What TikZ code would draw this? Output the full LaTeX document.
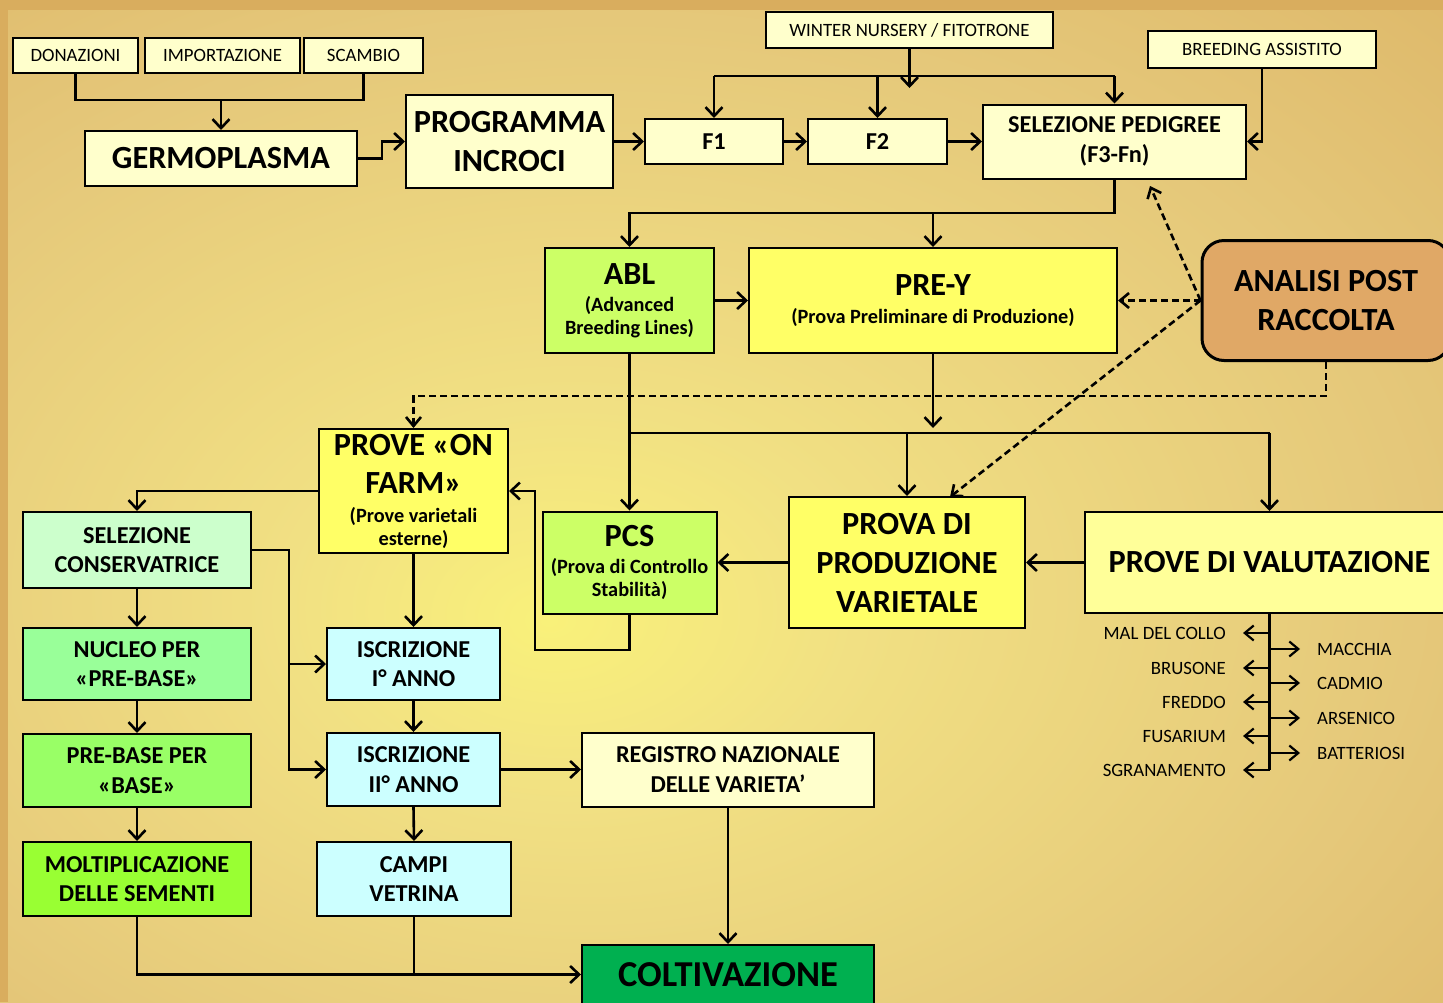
\documentclass[tikz,border=0pt]{standalone}
\usepackage{fontspec}
\setmainfont{Carlito}
\usetikzlibrary{arrows.meta}
\definecolor{cLY}{HTML}{FFFFCC}
\definecolor{cG1}{HTML}{CCFF66}
\definecolor{cY}{HTML}{FFFF66}
\definecolor{cY2}{HTML}{FFFF99}
\definecolor{cAna}{HTML}{E0A866}
\definecolor{cSC}{HTML}{CCFFCC}
\definecolor{cNU}{HTML}{99FF99}
\definecolor{cPB}{HTML}{99FF66}
\definecolor{cMO}{HTML}{99FF33}
\definecolor{cCY}{HTML}{CCFFFF}
\definecolor{cCO}{HTML}{00B050}
\definecolor{bgA}{HTML}{F9F17A}
\definecolor{bgB}{HTML}{F1E083}
\definecolor{bgC}{HTML}{E5C87A}
\definecolor{bgD}{HTML}{D9AD5E}
\pgfdeclareradialshading{bgsh}{\pgfpoint{-6bp}{-6bp}}{color(0bp)=(bgA); color(10bp)=(bgB); color(28bp)=(bgC); color(50bp)=(bgD); color(80bp)=(bgD)}
\newcommand\fbig{\bfseries\fontsize{32.3}{39}\selectfont}
\newcommand\fcol{\bfseries\fontsize{36.5}{42}\selectfont}
\newcommand\fmed{\bfseries\fontsize{24.3}{29.5}\selectfont}
\newcommand\fsub{\bfseries\fontsize{20.3}{23}\selectfont}
\newcommand\fsmall{\fontsize{18.8}{21}\selectfont}
\begin{document}
\begin{tikzpicture}[x=1pt,y=-1pt,
  bx/.style={draw=black, line width=2pt, align=center, inner sep=1pt, font=\fmed},
  ln/.style={line width=2.6pt},
  arr/.style={ln, -{Straight Barb[length=9pt,width=17pt]}},
  darr/.style={ln, dash pattern=on 7pt off 4pt, -{Straight Barb[length=9pt,width=15pt]}},
  sarr/.style={line width=2.2pt, shorten >=17pt, -{Straight Barb[length=9pt,width=15pt]}},
  lbl/.style={font=\fsmall, inner sep=0pt, text height=12pt, text depth=0pt}]
\useasboundingbox (0,0) rectangle (1443,1002);
\clip (0,0) rectangle (1443,1002);
\shade[shading=bgsh] (0,0) rectangle (1443,1002);
\fill[bgD] (0,0) rectangle (1443,10);
\fill[bgD] (0,0) rectangle (8,1002);

% top row
\node[bx, fill=cLY, font=\fsmall, minimum width=125, minimum height=35] (don) at (75.5,55.5) {DONAZIONI};
\node[bx, fill=cLY, font=\fsmall, minimum width=155, minimum height=35] (imp) at (222.5,55.5) {IMPORTAZIONE};
\node[bx, fill=cLY, font=\fsmall, minimum width=119, minimum height=35] (sca) at (363.5,55.5) {SCAMBIO};
\node[bx, fill=cLY, font=\fbig, minimum width=272, minimum height=55] (germ) at (221,158.5) {GERMOPLASMA};
\node[bx, fill=cLY, font=\fbig, minimum width=207, minimum height=93] (prog) at (509.5,141.5) {PROGRAMMA\\INCROCI};
\node[bx, fill=cLY, minimum width=138, minimum height=45] (f1) at (714,141.5) {F1};
\node[bx, fill=cLY, minimum width=139, minimum height=45] (f2) at (877.5,141.5) {F2};
\node[bx, fill=cLY, minimum width=263, minimum height=74] (sel) at (1114.5,141.5) {SELEZIONE PEDIGREE\\(F3-Fn)};
\node[bx, fill=cLY, font=\fsmall, minimum width=287, minimum height=36] (win) at (909.5,30) {WINTER NURSERY / FITOTRONE};
\node[bx, fill=cLY, font=\fsmall, minimum width=228, minimum height=37] (bre) at (1262,49.5) {BREEDING ASSISTITO};

% middle
\node[bx, fill=cG1, font=\fsub, minimum width=169, minimum height=105] (abl) at (629.5,300.5) {{\fbig ABL}\\[4pt](Advanced\\Breeding Lines)};
\node[bx, fill=cY, font=\fsub, minimum width=368, minimum height=105] (prey) at (933,300.5) {{\fbig PRE-Y}\\[5pt](Prova Preliminare di Produzione)};
\node[bx, fill=cAna, line width=3pt, rounded corners=22pt, font=\fbig, minimum width=248, minimum height=120] (ana) at (1326,300.5) {ANALISI POST\\RACCOLTA};
\node[bx, fill=cG1, font=\fsub, minimum width=174, minimum height=102] (pcs) at (629.5,562.5) {{\fbig PCS}\\[4pt](Prova di Controllo\\Stabilità)};
\node[bx, fill=cY, font=\fbig, minimum width=236, minimum height=131] (pdp) at (907,562.5) {PROVA DI\\PRODUZIONE\\VARIETALE};
\node[bx, fill=cY2, font=\fbig, minimum width=369, minimum height=101] (pdv) at (1269.5,562.5) {PROVE DI VALUTAZIONE};
\node[bx, fill=cY, font=\fsub, minimum width=189, minimum height=124] (onf) at (413.5,491) {{\fbig PROVE «ON}\\[15pt]{\fbig FARM»}\\[6pt](Prove varietali\\esterne)};

% left columns
\node[bx, fill=cSC, minimum width=228, minimum height=76] (scons) at (137,550) {SELEZIONE\\CONSERVATRICE};
\node[bx, fill=cNU, minimum width=228, minimum height=72] (nuc) at (137,664) {NUCLEO PER\\«PRE-BASE»};
\node[bx, fill=cPB, minimum width=228, minimum height=73] (preb) at (137,770.5) {PRE-BASE PER\\«BASE»};
\node[bx, fill=cMO, minimum width=228, minimum height=74] (molt) at (137,879) {MOLTIPLICAZIONE\\DELLE SEMENTI};
\node[bx, fill=cCY, minimum width=173, minimum height=72] (isc1) at (413.5,664) {ISCRIZIONE\\I° ANNO};
\node[bx, fill=cCY, minimum width=173, minimum height=73] (isc2) at (413.5,769.5) {ISCRIZIONE\\II° ANNO};
\node[bx, fill=cCY, minimum width=194, minimum height=74] (campi) at (414,879) {CAMPI\\VETRINA};
\node[bx, fill=cLY, minimum width=292, minimum height=74] (reg) at (728,769.5) {REGISTRO NAZIONALE\\DELLE VARIETA’};
\node[bx, fill=cCO, font=\fcol, minimum width=292, minimum height=59] (colt) at (728,974.5) {COLTIVAZIONE};

% connectors top
\coordinate (j1) at (221,100);
\draw[ln] (don.south) |- (j1) -| (sca.south);
\draw[arr] (j1) -- (germ.north);
\coordinate (j2) at (382,150);
\draw[arr] (germ.east) -| (j2) |- (prog.west);
\draw[arr] (prog.east) -- (f1.west);
\draw[arr] (f1.east) -- (f2.west);
\draw[arr] (f2.east) -- (sel.west);
\coordinate (wl) at (714,76);
\coordinate (wr) at (1114.5,76);
\coordinate (wa) at (909.5,88);
\draw[ln] (wl) -- (wr);
\draw[arr] (win.south) -- (wa);
\draw[arr] (wl) -- (f1.north);
\draw[arr] (f2.north |- wl) -- (f2.north);
\draw[arr] (wr) -- (sel.north);
\draw[arr] (bre.south) |- (sel.east);
\coordinate (j3) at (933,213);
\draw[arr] (sel.south) |- (j3) -| (abl.north);
\draw[arr] (j3) -- (prey.north);
\draw[arr] (abl.east) -- (prey.west);

% dashed from analisi
\coordinate (selp) at (1150,186);
\coordinate (pdpt) at (950,497);
\coordinate (j4) at (1326,396);
\draw[darr] (ana.west) -- (prey.east);
\draw[darr] (ana.west) -- (selp);
\draw[darr] (ana.west) -- (pdpt);
\draw[darr] (ana.south) -- (j4) -| (onf.north);

% middle connectors
\coordinate (hl) at (629.5,433);
\coordinate (hr) at (1269.5,433);
\coordinate (pa) at (933,428);
\draw[arr] (abl.south) -- (pcs.north);
\draw[ln] (hl) -- (hr);
\draw[arr] (prey.south) -- (pa);
\draw[arr] (pdp.north |- hl) -- (pdp.north);
\draw[arr] (hr) -- (pdv.north);
\draw[arr] (pdv.west) -- (pdp.east);
\draw[arr] (pdp.west) -- (pcs.east);
\coordinate (j6) at (535,650);
\draw[arr] (pcs.south) |- (j6) |- (onf.east);
\draw[arr] (onf.west) -| (scons.north);
\draw[arr] (onf.south) -- (isc1.north);

% left connectors
\draw[arr] (scons.south) -- (nuc.north);
\draw[arr] (nuc.south) -- (preb.north);
\draw[arr] (preb.south) -- (molt.north);
\coordinate (j7) at (289,664);
\draw[arr] (scons.east) -| (isc2.west -| j7) -- (isc2.west);
\draw[arr] (j7) -- (isc1.west);
\draw[arr] (isc1.south) -- (isc2.north);
\draw[arr] (isc2.south) -- (campi.north);
\draw[arr] (isc2.east) -- (reg.west);
\draw[arr] (reg.south) -- (colt.north);
\draw[arr] (molt.south) |- (colt.west);
\draw[ln] (campi.south) -- (campi.south |- colt.west);

% evaluation list
\coordinate (vb) at (1269.5,770);
\draw[line width=2.2pt] (pdv.south) -- (vb);
\node[lbl, anchor=east] (l1) at (1226,633) {MAL DEL COLLO};
\node[lbl, anchor=east] (l2) at (1226,668) {BRUSONE};
\node[lbl, anchor=east] (l3) at (1226,702) {FREDDO};
\node[lbl, anchor=east] (l4) at (1226,736) {FUSARIUM};
\node[lbl, anchor=east] (l5) at (1226,770) {SGRANAMENTO};
\node[lbl, anchor=west] (r1) at (1317,649) {MACCHIA};
\node[lbl, anchor=west] (r2) at (1317,683) {CADMIO};
\node[lbl, anchor=west] (r3) at (1317,718) {ARSENICO};
\node[lbl, anchor=west] (r4) at (1317,753) {BATTERIOSI};
\foreach \n in {l1,l2,l3,l4,l5} \draw[sarr] (\n.east -| vb) -- (\n.east);
\foreach \n in {r1,r2,r3,r4} \draw[sarr] (\n.west -| vb) -- (\n.west);
\end{tikzpicture}
\end{document}
